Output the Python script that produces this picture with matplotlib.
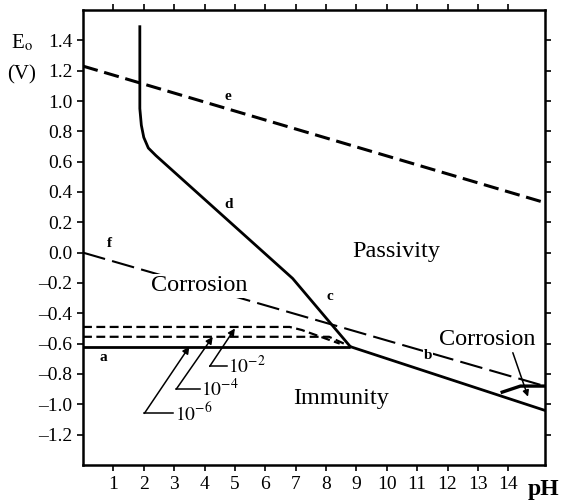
import matplotlib
matplotlib.use('Agg')
import matplotlib.pyplot as plt

plt.rcParams['font.family'] = ['Liberation Serif', 'DejaVu Serif']
plt.rcParams['mathtext.fontset'] = 'stix'

# boundary lines of the Fe-H2O Pourbaix diagram (pH, E in V)
ph_e = [0.0, 15.2]
e_e = [1.23, 0.33]
ph_f = [0.0, 15.2]
e_f = [0.0, -0.88]
ph_a = [0.0, 8.8]
e_a = [-0.62, -0.62]
ph_d = [1.87, 1.87, 1.92, 2.0, 2.15, 2.4, 6.9, 8.8]
e_d = [1.49, 0.95, 0.84, 0.76, 0.69, 0.64, -0.17, -0.62]
ph_b = [8.8, 15.2]
e_b = [-0.62, -1.04]
ph_hf = [13.8, 14.4, 15.2]
e_hf = [-0.92, -0.88, -0.88]
ph_c2 = [0.0, 6.8, 7.2, 8.45]
e_c2 = [-0.49, -0.49, -0.51, -0.60]
ph_c4 = [0.0, 8.1, 8.7]
e_c4 = [-0.555, -0.555, -0.61]

# concentration pointers: elbow, tip, label
conc_labels = [r'$10^{-2}$', r'$10^{-4}$', r'$10^{-6}$']
conc_elbow = [(4.17, -0.75), (3.07, -0.90), (2.02, -1.06)]
conc_tip = [(5.0, -0.50), (4.27, -0.555), (3.5, -0.62)]
conc_hlen = [0.56, 0.78, 0.95]

letters = ['e', 'd', 'f', 'c', 'b', 'a']
letter_pos = [(4.76, 1.03), (4.8, 0.32), (0.87, 0.06), (8.13, -0.29), (11.37, -0.68), (0.67, -0.69)]

regions = ['Passivity', 'Corrosion', 'Immunity', 'Corrosion']
region_pos = [(10.3, 0.01), (3.84, -0.22), (8.5, -0.96), (13.3, -0.57)]

fig = plt.figure(figsize=(5.61, 5.01), dpi=100)
ax = fig.add_axes([0.148, 0.072, 0.823, 0.908])

ax.plot(ph_e, e_e, color='black', lw=2.2, dashes=(5, 2.2))
ax.plot(ph_f, e_f, color='black', lw=1.5, dashes=(11, 3.5))
ax.plot(ph_c2, e_c2, color='black', lw=1.6, dashes=(4, 2))
ax.plot(ph_c4, e_c4, color='black', lw=1.6, dashes=(4, 2))
ax.plot(ph_a, e_a, color='black', lw=2.0, solid_capstyle='butt')
ax.plot(ph_d, e_d, color='black', lw=2.0)
ax.plot(ph_b, e_b, color='black', lw=2.0)
ax.plot(ph_hf, e_hf, color='black', lw=2.4)

for lab, (ex, ey), (tx, ty), hl in zip(conc_labels, conc_elbow, conc_tip, conc_hlen):
    ax.plot([ex, ex + hl], [ey, ey], color='black', lw=1.1)
    ax.annotate('', xy=(tx, ty), xytext=(ex, ey),
                arrowprops=dict(arrowstyle='-|>', color='black', lw=1.1,
                                mutation_scale=10, shrinkA=0, shrinkB=0))
    ax.text(ex + hl + 0.05, ey, lab, fontsize=14, ha='left', va='center')

for lab, (x, y) in zip(letters, letter_pos):
    ax.text(x, y, lab, fontsize=11, fontweight='bold', ha='center', va='center',
            bbox=dict(facecolor='white', edgecolor='none', pad=0.5))

for i, (lab, (x, y)) in enumerate(zip(regions, region_pos)):
    bb = dict(facecolor='white', edgecolor='none', pad=1) if i == 1 else None
    ax.text(x, y, lab, fontsize=17.5, ha='center', va='center', bbox=bb)

ax.annotate('', xy=(14.65, -0.95), xytext=(14.15, -0.66),
            arrowprops=dict(arrowstyle='-|>', color='black', lw=1.1,
                            mutation_scale=9, shrinkA=0, shrinkB=0))

ax.set_xlim(0, 15.2)
ax.set_ylim(-1.4, 1.6)
ax.set_xticks(range(1, 15))
ax.set_yticks([1.4, 1.2, 1.0, 0.8, 0.6, 0.4, 0.2, 0.0, -0.2, -0.4, -0.6, -0.8, -1.0, -1.2])
ax.set_yticklabels(['1.4', '1.2', '1.0', '0.8', '0.6', '0.4', '0.2', '0.0', '\u20130.2', '\u20130.4',
                    '\u20130.6', '\u20130.8', '\u20131.0', '\u20131.2'])
ax.tick_params(direction='out', length=4, width=1.2, labelsize=14, top=True, right=True,
               labeltop=False, labelright=False)
ax.tick_params(axis='x', pad=4)
ax.tick_params(axis='y', pad=3.5)
for s in ax.spines.values():
    s.set_linewidth(1.8)

fig.text(0.039, 0.914, r'E$_\mathrm{o}$', fontsize=15, ha='center', va='center')
fig.text(0.039, 0.85, '(V)', fontsize=15, ha='center', va='center')
fig.text(0.968, 0.022, 'pH', fontsize=17, fontweight='bold', ha='center', va='center')

fig.savefig('out.png', dpi=100)
